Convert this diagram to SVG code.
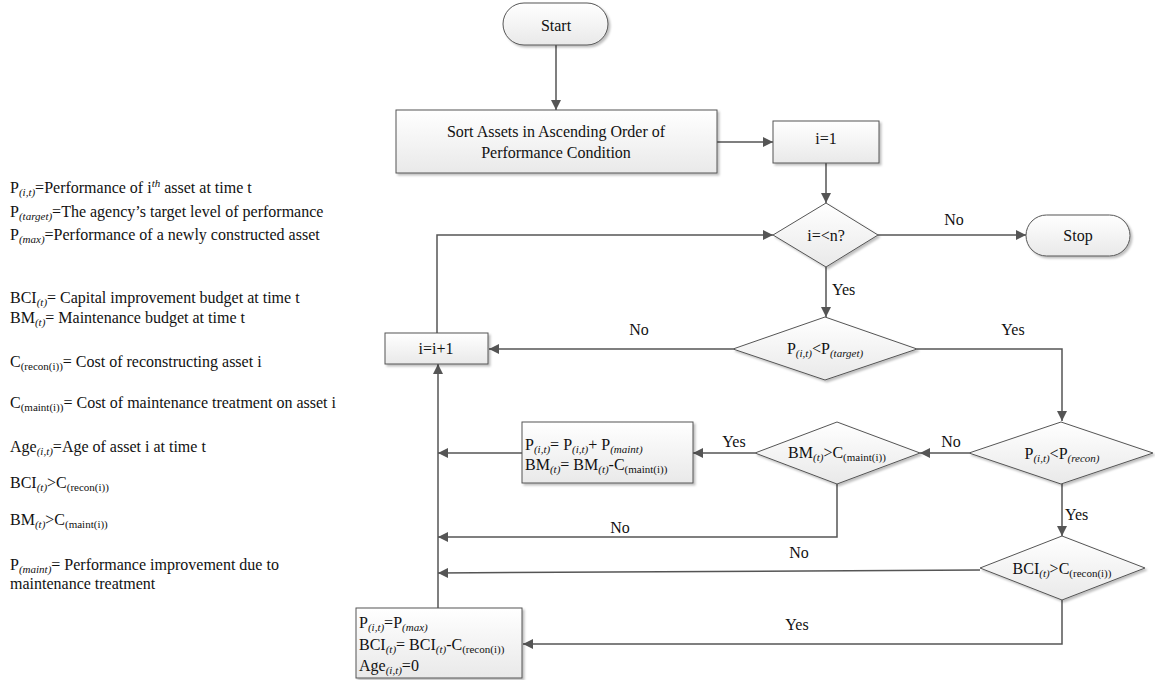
<svg xmlns="http://www.w3.org/2000/svg" width="1155" height="680" viewBox="0 0 1155 680">
  <defs>
    <linearGradient id="fillGrad" x1="0" y1="0" x2="0" y2="1">
      <stop offset="0" stop-color="#ffffff"/>
      <stop offset="1" stop-color="#e9e9e9"/>
    </linearGradient>
    <filter id="shadow" x="-10%" y="-10%" width="130%" height="140%">
      <feDropShadow dx="2" dy="2" stdDeviation="1.2" flood-color="#000" flood-opacity="0.25"/>
    </filter>
    <marker id="arrow" viewBox="0 0 10 10" refX="10" refY="5" markerWidth="10" markerHeight="10" markerUnits="userSpaceOnUse" orient="auto">
      <path d="M0,0 L10,5 L0,10 z" fill="#555"/>
    </marker>
  </defs>
  <style>
    text { font-family: "Liberation Serif", "Times New Roman", serif; fill: #111; }
    .t { font-size: 16px; }
    .c { text-anchor: middle; }
    .lg { font-size: 16px; }
    .s { font-size: 11px; }
    .i { font-style: italic; }
    .shape { fill: url(#fillGrad); stroke: #555; stroke-width: 1; filter: url(#shadow); }
    .edge { fill: none; stroke: #555; stroke-width: 1.5; }
  </style>

  <rect width="1155" height="680" fill="#ffffff"/>

  <!-- legend of symbols -->
  <g id="legend">
    <text class="lg" x="10" y="193">P<tspan class="s i" dy="3">(i,t)</tspan><tspan dy="-3">=Performance of i</tspan><tspan class="s i" dy="-6">th</tspan><tspan dy="6"> asset at time t</tspan></text>
    <text class="lg" x="10" y="217">P<tspan class="s i" dy="3">(target)</tspan><tspan dy="-3">=The agency’s target level of performance</tspan></text>
    <text class="lg" x="10" y="240">P<tspan class="s i" dy="3">(max)</tspan><tspan dy="-3">=Performance of a newly constructed asset</tspan></text>
    <text class="lg" x="10" y="303">BCI<tspan class="s i" dy="3">(t)</tspan><tspan dy="-3">= Capital improvement budget at time t</tspan></text>
    <text class="lg" x="10" y="323">BM<tspan class="s i" dy="3">(t)</tspan><tspan dy="-3">= Maintenance budget at time t</tspan></text>
    <text class="lg" x="10" y="367">C<tspan class="s" dy="3">(recon(i))</tspan><tspan dy="-3">= Cost of reconstructing asset i</tspan></text>
    <text class="lg" x="10" y="408">C<tspan class="s" dy="3">(maint(i))</tspan><tspan dy="-3">= Cost of maintenance treatment on asset i</tspan></text>
    <text class="lg" x="10" y="452">Age<tspan class="s i" dy="3">(i,t)</tspan><tspan dy="-3">=Age of asset i at time t</tspan></text>
    <text class="lg" x="10" y="488">BCI<tspan class="s i" dy="3">(t)</tspan><tspan dy="-3">&gt;C</tspan><tspan class="s" dy="3">(recon(i))</tspan></text>
    <text class="lg" x="10" y="525">BM<tspan class="s i" dy="3">(t)</tspan><tspan dy="-3">&gt;C</tspan><tspan class="s" dy="3">(maint(i))</tspan></text>
    <text class="lg" x="10" y="570">P<tspan class="s i" dy="3">(maint)</tspan><tspan dy="-3">= Performance improvement due to</tspan></text>
    <text class="lg" x="10" y="589">maintenance treatment</text>
  </g>

  <!-- connectors -->
  <g id="connectors">
    <path class="edge" d="M556,45 L556,110" marker-end="url(#arrow)"/>
    <path class="edge" d="M717,142 L773,142" marker-end="url(#arrow)"/>
    <path class="edge" d="M826,163 L826,203" marker-end="url(#arrow)"/>
    <path class="edge" d="M878,235 L1026,235" marker-end="url(#arrow)"/>
    <path class="edge" d="M826,267 L826,317" marker-end="url(#arrow)"/>
    <path class="edge" d="M733,349 L489,349" marker-end="url(#arrow)"/>
    <path class="edge" d="M437,333 L437,235 L773,235" marker-end="url(#arrow)"/>
    <path class="edge" d="M917,349 L1062,349 L1062,421" marker-end="url(#arrow)"/>
    <path class="edge" d="M969,453 L920,453" marker-end="url(#arrow)"/>
    <path class="edge" d="M755,453 L693,453" marker-end="url(#arrow)"/>
    <path class="edge" d="M522,453 L438,453" marker-end="url(#arrow)"/>
    <path class="edge" d="M837,484 L837,537 L438,537" marker-end="url(#arrow)"/>
    <path class="edge" d="M1062,484 L1062,536" marker-end="url(#arrow)"/>
    <path class="edge" d="M980,570 L438,573" marker-end="url(#arrow)"/>
    <path class="edge" d="M1062,600 L1062,644 L523,644" marker-end="url(#arrow)"/>
    <path class="edge" d="M438,608 L438,364" marker-end="url(#arrow)"/>

    <text class="t c" x="954" y="225">No</text>
    <text class="t" x="832" y="295">Yes</text>
    <text class="t c" x="639" y="335">No</text>
    <text class="t c" x="1013" y="335">Yes</text>
    <text class="t c" x="951" y="447">No</text>
    <text class="t c" x="734" y="447">Yes</text>
    <text class="t c" x="620" y="533">No</text>
    <text class="t" x="1065" y="520">Yes</text>
    <text class="t c" x="799" y="558">No</text>
    <text class="t c" x="797" y="630">Yes</text>
  </g>

  <g id="start">
    <rect class="shape" x="503" y="3" width="105" height="42" rx="21" ry="21"/>
    <text class="t c" x="556" y="31">Start</text>
  </g>

  <g id="sort">
    <rect class="shape" x="396" y="110" width="321" height="63"/>
    <text class="t c" x="556" y="137">Sort Assets in Ascending Order of</text>
    <text class="t c" x="556" y="158">Performance Condition</text>
  </g>

  <g id="init">
    <rect class="shape" x="773" y="121" width="106" height="42"/>
    <text class="t c" x="826" y="144">i=1</text>
  </g>

  <g id="loop-test">
    <polygon class="shape" points="826,203 878,235 826,267 773,235"/>
    <text class="t c" x="826" y="241">i=&lt;n?</text>
  </g>

  <g id="stop">
    <rect class="shape" x="1026" y="215" width="104" height="41" rx="20.5" ry="20.5"/>
    <text class="t c" x="1078" y="241">Stop</text>
  </g>

  <g id="target-test">
    <polygon class="shape" points="825,317 917,349 825,380 733,349"/>
    <text class="t c" x="825" y="354">P<tspan class="s i" dy="3">(i,t)</tspan><tspan dy="-3">&lt;P</tspan><tspan class="s i" dy="3">(target)</tspan></text>
  </g>

  <g id="increment">
    <rect class="shape" x="385" y="333" width="103" height="31"/>
    <text class="t c" x="436" y="354">i=i+1</text>
  </g>

  <g id="recon-test">
    <polygon class="shape" points="1061,422 1153,453 1061,484 969,453"/>
    <text class="t c" x="1062" y="459">P<tspan class="s i" dy="3">(i,t)</tspan><tspan dy="-3">&lt;P</tspan><tspan class="s i" dy="3">(recon)</tspan></text>
  </g>

  <g id="maint-budget-test">
    <polygon class="shape" points="837,422 920,453 837,484 755,453"/>
    <text class="t c" x="837" y="458">BM<tspan class="s i" dy="3">(t)</tspan><tspan dy="-3">&gt;C</tspan><tspan class="s" dy="3">(maint(i))</tspan></text>
  </g>

  <g id="maintain">
    <rect class="shape" x="522" y="422" width="171" height="61"/>
    <text class="t" x="525" y="450">P<tspan class="s i" dy="3">(i,t)</tspan><tspan dy="-3">= P</tspan><tspan class="s i" dy="3">(i,t)</tspan><tspan dy="-3">+ P</tspan><tspan class="s i" dy="3">(maint)</tspan></text>
    <text class="t" x="525" y="470">BM<tspan class="s i" dy="3">(t)</tspan><tspan dy="-3">= BM</tspan><tspan class="s i" dy="3">(t)</tspan><tspan dy="-3">-C</tspan><tspan class="s" dy="3">(maint(i))</tspan></text>
  </g>

  <g id="capital-budget-test">
    <polygon class="shape" points="1062,536 1145,568 1062,600 980,568"/>
    <text class="t c" x="1062" y="574">BCI<tspan class="s i" dy="3">(t)</tspan><tspan dy="-3">&gt;C</tspan><tspan class="s" dy="3">(recon(i))</tspan></text>
  </g>

  <g id="reconstruct">
    <rect class="shape" x="356" y="608" width="166" height="70"/>
    <text class="t" x="359" y="628">P<tspan class="s i" dy="3">(i,t)</tspan><tspan dy="-3">=P</tspan><tspan class="s i" dy="3">(max)</tspan></text>
    <text class="t" x="359" y="650">BCI<tspan class="s i" dy="3">(t)</tspan><tspan dy="-3">= BCI</tspan><tspan class="s i" dy="3">(t)</tspan><tspan dy="-3">-C</tspan><tspan class="s" dy="3">(recon(i))</tspan></text>
    <text class="t" x="359" y="671">Age<tspan class="s i" dy="3">(i,t)</tspan><tspan dy="-3">=0</tspan></text>
  </g>
</svg>
